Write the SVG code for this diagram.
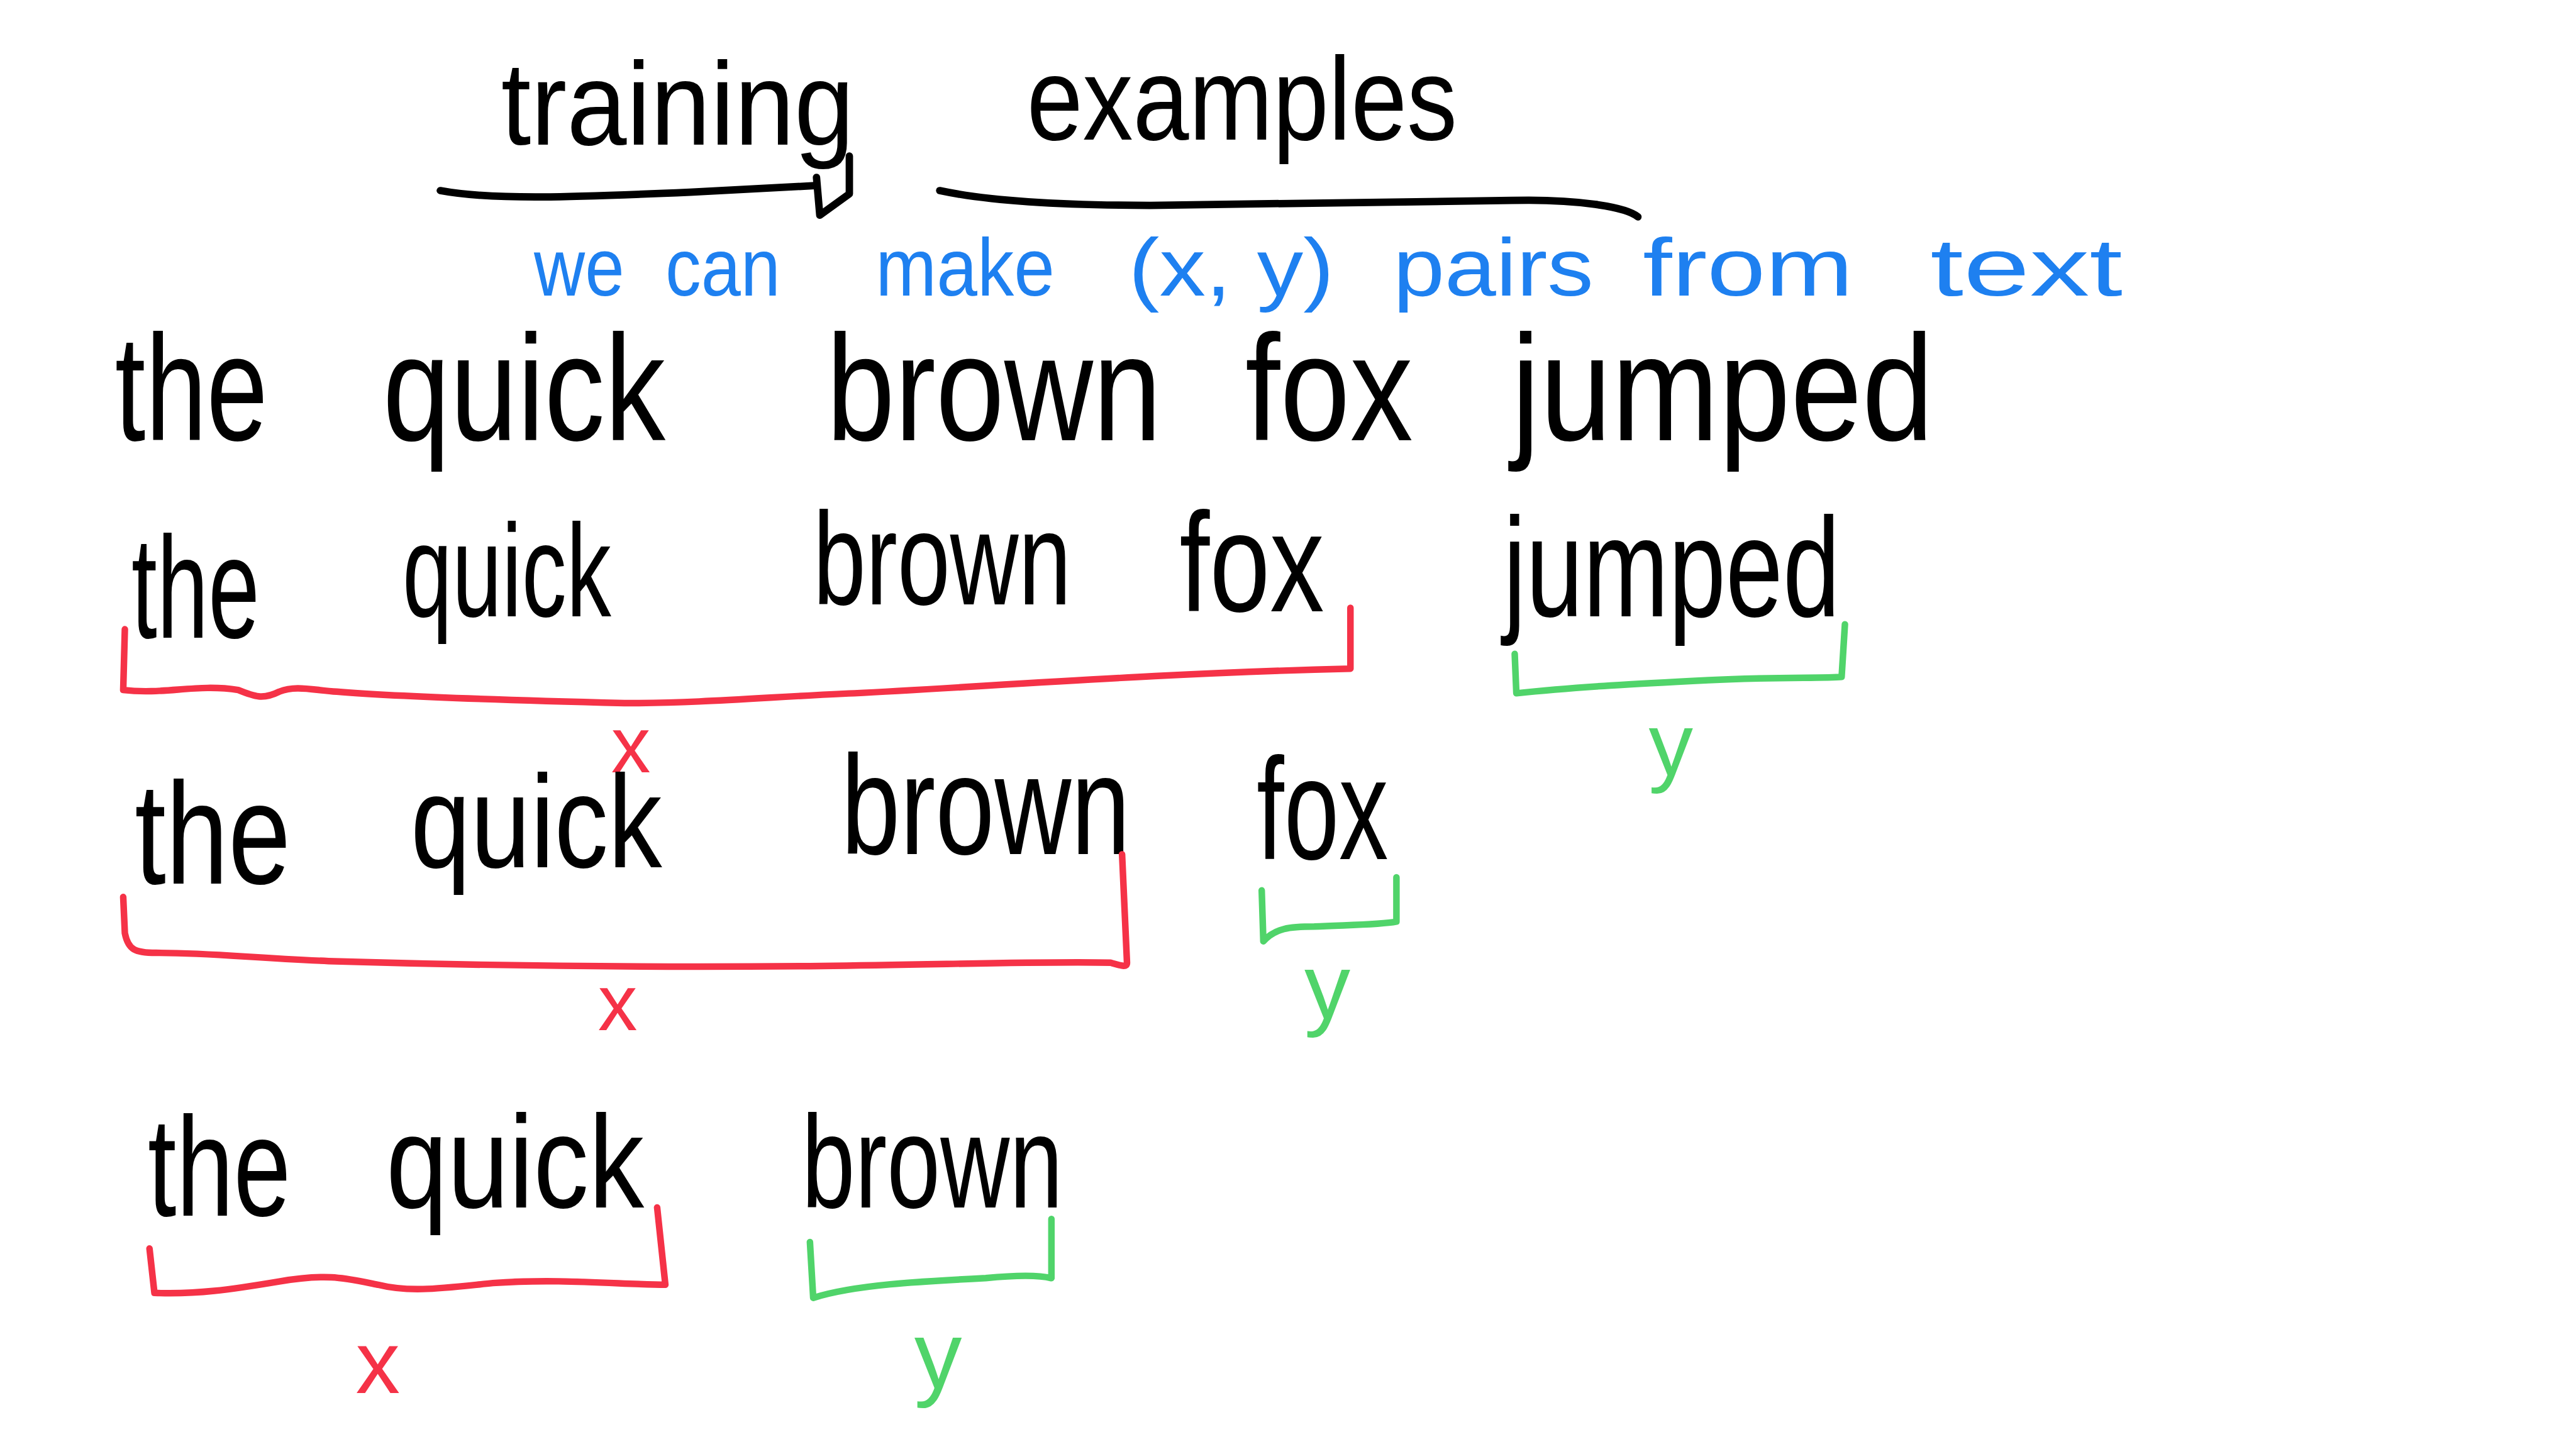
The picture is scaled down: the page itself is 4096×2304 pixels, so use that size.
<svg xmlns="http://www.w3.org/2000/svg" width="4096" height="2304" viewBox="0 0 4096 2304">
<style>
.k{font-family:"Liberation Sans","DejaVu Sans",sans-serif;fill:#000}
.b{font-family:"Liberation Sans","DejaVu Sans",sans-serif;fill:#1e80f0}
.rx{font-family:"Liberation Sans","DejaVu Sans",sans-serif;fill:#f53247;text-anchor:middle}
.gy{font-family:"Liberation Sans","DejaVu Sans",sans-serif;fill:#50d46a;text-anchor:middle}
.ul{fill:none;stroke:#000;stroke-width:4.5;stroke-linecap:round;stroke-linejoin:round}
.rb{fill:none;stroke:#f53247;stroke-width:4;stroke-linecap:round;stroke-linejoin:round}
.gb{fill:none;stroke:#50d46a;stroke-width:4;stroke-linecap:round;stroke-linejoin:round}
</style>
<rect width="4096" height="2304" fill="#fff"/>
<g transform="scale(2.61224)">
<g id="title">
<text class="k" x="305" y="88" font-size="72" textLength="215" lengthAdjust="spacingAndGlyphs">training</text>
<text class="k" x="625" y="85" font-size="72" textLength="262" lengthAdjust="spacingAndGlyphs">examples</text>
</g>
<g id="underlines">
<path class="ul" d="M268,116 C300,122 350,120 420,117 L496,113"/>
<path class="ul" d="M517,95 L517,118 L499,131 L497,108"/>
<path class="ul" d="M572,116 C600,122 640,125 700,125 C780,124 860,123 920,122 C960,121 990,126 997,132"/>
</g>
<g id="subtitle">
<text class="b" x="325" y="180" font-size="50" textLength="55" lengthAdjust="spacingAndGlyphs">we</text>
<text class="b" x="405" y="180" font-size="50" textLength="70" lengthAdjust="spacingAndGlyphs">can</text>
<text class="b" x="533" y="180" font-size="50" textLength="109" lengthAdjust="spacingAndGlyphs">make</text>
<text class="b" x="687" y="180" font-size="50" textLength="125" lengthAdjust="spacingAndGlyphs">(x, y)</text>
<text class="b" x="848" y="180" font-size="50" textLength="122" lengthAdjust="spacingAndGlyphs">pairs</text>
<text class="b" x="1000" y="180" font-size="50" textLength="128" lengthAdjust="spacingAndGlyphs">from</text>
<text class="b" x="1175" y="180" font-size="50" textLength="117" lengthAdjust="spacingAndGlyphs">text</text>
</g>
<g id="row1">
<text class="k" x="70" y="268" font-size="92" textLength="93" lengthAdjust="spacingAndGlyphs">the</text>
<text class="k" x="233" y="268" font-size="92" textLength="172" lengthAdjust="spacingAndGlyphs">quick</text>
<text class="k" x="503" y="268" font-size="92" textLength="204" lengthAdjust="spacingAndGlyphs">brown</text>
<text class="k" x="758" y="268" font-size="92" textLength="102" lengthAdjust="spacingAndGlyphs">fox</text>
<text class="k" x="920" y="268" font-size="92" textLength="257" lengthAdjust="spacingAndGlyphs">jumped</text>
</g>
<g id="row2">
<text class="k" x="80" y="388" font-size="88" textLength="78" lengthAdjust="spacingAndGlyphs">the</text>
<text class="k" x="245" y="375" font-size="80" textLength="127" lengthAdjust="spacingAndGlyphs">quick</text>
<text class="k" x="495" y="368" font-size="80" textLength="157" lengthAdjust="spacingAndGlyphs">brown</text>
<text class="k" x="718" y="372" font-size="86" textLength="88" lengthAdjust="spacingAndGlyphs">fox</text>
<text class="k" x="915" y="375" font-size="86" textLength="205" lengthAdjust="spacingAndGlyphs">jumped</text>
<path class="rb" d="M76,383 L75,420 C100,423 120,416 145,420 C155,424 160,426 170,421 C180,417 190,420 205,421 C240,424 300,426 380,428 C430,428 470,424 520,422 C600,418 700,410 822,407 L822,370"/>
<path class="gb" d="M922,398 L923,422 C960,418 1000,416 1040,414 C1080,412 1110,413 1121,412 L1123,380"/>
<text class="rx" x="384" y="470" font-size="48">x</text>
<text class="gy" x="1017" y="472" font-size="54">y</text>
</g>
<g id="row3">
<text class="k" x="82" y="538" font-size="88" textLength="95" lengthAdjust="spacingAndGlyphs">the</text>
<text class="k" x="250" y="528" font-size="80" textLength="153" lengthAdjust="spacingAndGlyphs">quick</text>
<text class="k" x="512" y="520" font-size="86" textLength="176" lengthAdjust="spacingAndGlyphs">brown</text>
<text class="k" x="765" y="523" font-size="88" textLength="80" lengthAdjust="spacingAndGlyphs">fox</text>
<path class="rb" d="M75,546 L76,568 C78,578 82,580 95,580 C130,580 150,583 200,585 C300,588 400,589 500,588 C580,587 640,585 676,586 C683,588 686,589 686,586 L683,520"/>
<path class="gb" d="M768,542 L769,573 C776,565 785,564 800,564 C820,563 840,563 850,561 L850,534"/>
<text class="rx" x="376" y="627" font-size="48">x</text>
<text class="gy" x="808" y="620" font-size="56">y</text>
</g>
<g id="row4">
<text class="k" x="90" y="740" font-size="86" textLength="87" lengthAdjust="spacingAndGlyphs">the</text>
<text class="k" x="235" y="735" font-size="80" textLength="157" lengthAdjust="spacingAndGlyphs">quick</text>
<text class="k" x="488" y="735" font-size="80" textLength="159" lengthAdjust="spacingAndGlyphs">brown</text>
<path class="rb" d="M91,760 L94,787 C120,788 140,785 170,780 C200,775 210,778 230,782 C250,787 270,784 300,781 C340,778 380,782 405,782 L400,735"/>
<path class="gb" d="M493,756 L495,790 C520,782 560,780 600,778 C620,776 632,776 640,778 L640,742"/>
<text class="rx" x="230" y="848" font-size="54">x</text>
<text class="gy" x="571" y="845" font-size="58">y</text>
</g>
</g>
</svg>
